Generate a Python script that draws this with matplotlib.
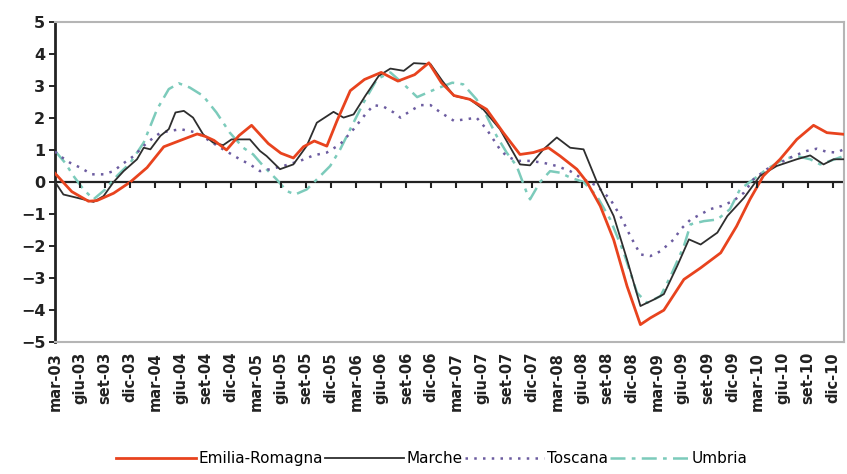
import matplotlib.pyplot as plt
import numpy as np

# month index 0 = mar-03, one step per month
quarter_labels = [f"{m}-{y:02d}" for y in range(3, 11) for m in ("mar", "giu", "set", "dic")]

er_month = [0, 2, 4, 5, 7, 9, 11, 13, 15, 17, 18, 19, 20, 20.5, 22, 23.5, 25.5, 27, 28.5, 29.7,
            31, 32.5, 33.7, 35.3, 37, 39, 41, 43, 44.7, 46.2, 47.7, 49.6, 51.6, 53.6, 55.6, 57.2,
            59, 60.4, 62.4, 63.6, 65.2, 66.8, 68.4, 70, 71.2, 72.8, 75.2, 77.2, 79.6, 81.5, 83.1,
            84.7, 86.7, 88.7, 90.7, 92.3, 94.3]
er_value = [0.27, -0.3, -0.6, -0.58, -0.35, 0.0, 0.45, 1.1, 1.3, 1.5, 1.42, 1.3, 1.1, 1.0, 1.45,
            1.77, 1.2, 0.9, 0.75, 1.1, 1.28, 1.12, 1.9, 2.85, 3.2, 3.42, 3.15, 3.35, 3.72, 3.1, 2.7,
            2.58, 2.27, 1.54, 0.86, 0.92, 1.07, 0.81, 0.4, 0.0, -0.75, -1.8, -3.25, -4.45, -4.24,
            -4.0, -3.04, -2.68, -2.21, -1.38, -0.54, 0.19, 0.71, 1.33, 1.77, 1.54, 1.49]

ma_month = [0, 1, 2.6, 4.6, 5.8, 7, 8.2, 9.8, 10.6, 11.4, 12.6, 13.6, 14.4, 15.4, 16.5, 17.7,
            18.9, 20.1, 21.1, 23.3, 24.5, 25.3, 26.9, 28.5, 30.1, 31.3, 33.3, 34.5, 35.7, 37.1,
            38.7, 40.1, 41.7, 42.9, 44.9, 46.3, 47.7, 49.6, 51.2, 53.2, 55.6, 56.8, 58.4, 60,
            61.6, 63.2, 64.8, 66.8, 68.4, 70, 71.6, 72.8, 74.4, 75.8, 77.2, 79.2, 80.4, 82.4,
            84.3, 86.3, 88.7, 90.3, 91.9, 93.1, 94.3]
ma_value = [0.0, -0.39, -0.49, -0.62, -0.44, 0.0, 0.34, 0.71, 1.07, 1.02, 1.44, 1.65, 2.17, 2.22,
            2.01, 1.49, 1.23, 1.15, 1.33, 1.33, 0.97, 0.81, 0.4, 0.55, 1.13, 1.85, 2.19, 2.01, 2.11,
            2.69, 3.31, 3.54, 3.47, 3.71, 3.68, 3.16, 2.69, 2.58, 2.27, 1.65, 0.55, 0.52, 1.02,
            1.39, 1.07, 1.02, 0.0, -1.06, -2.42, -3.87, -3.67, -3.5, -2.62, -1.79, -1.95, -1.58,
            -1.06, -0.49, 0.19, 0.5, 0.71, 0.83, 0.55, 0.71, 0.71]

to_month = [0, 0.6, 1.8, 3, 4.4, 5.8, 7, 8, 9.4, 11, 12.6, 15, 17, 18.5, 20.1, 22.1, 23.3, 24.5,
            25.7, 27.3, 29.3, 30.9, 32.5, 34.1, 35.7, 37.1, 38.1, 39.3, 40.5, 41.3, 42.5, 43.7,
            44.9, 46.1, 47.7, 49.2, 50.4, 51.6, 53.2, 54, 55.2, 56.8, 58.4, 60, 61.6, 63.2, 64.8,
            66.4, 67.6, 68.8, 70, 71.2, 72.4, 74, 74.8, 76, 77.2, 78.3, 79.7, 81.1, 82.4, 83.5,
            85.1, 86.7, 88.3, 89.9, 91.1, 92.3, 93.5, 94.3]
to_value = [0.95, 0.81, 0.6, 0.45, 0.24, 0.24, 0.34, 0.55, 0.81, 1.23, 1.54, 1.65, 1.54, 1.28,
            1.02, 0.71, 0.55, 0.34, 0.4, 0.5, 0.66, 0.83, 0.92, 1.18, 1.65, 2.11, 2.4, 2.35, 2.17,
            2.01, 2.22, 2.4, 2.4, 2.17, 1.91, 1.96, 2.01, 1.65, 1.02, 0.81, 0.66, 0.66, 0.6, 0.5,
            0.34, 0.08, -0.12, -0.54, -1.06, -1.69, -2.26, -2.31, -2.16, -1.79, -1.48, -1.17,
            -1.01, -0.85, -0.75, -0.59, -0.33, 0.08, 0.4, 0.6, 0.81, 0.97, 1.04, 0.94, 0.92, 1.02]

um_month = [0, 1.2, 2.2, 3.4, 4.6, 6, 7.4, 9, 10.6, 12.2, 13.6, 14.8, 16.1, 17.7, 19.3, 20.9,
            22.5, 23.7, 24.9, 26.5, 27.7, 28.7, 30.1, 31.3, 32.9, 34.1, 35.3, 36.9, 38.5, 40.1,
            41.7, 43.3, 45.5, 47.5, 48.8, 50.4, 51.6, 52.8, 54, 55.2, 56.4, 56.8, 58, 59.2, 60.4,
            61.6, 63.2, 64.8, 66.4, 68, 69.6, 70.8, 72.4, 73.6, 75.2, 76, 77.6, 79.2, 80.7, 81.9,
            83.5, 85.1, 87.1, 88.7, 90.3, 91.5, 92.7, 94.3]
um_value = [0.97, 0.6, 0.19, -0.23, -0.54, -0.23, 0.19, 0.6, 1.23, 2.27, 2.9, 3.08, 2.95, 2.69,
            2.17, 1.54, 1.07, 0.86, 0.5, 0.08, -0.28, -0.39, -0.23, 0.08, 0.5, 1.02, 1.65, 2.48,
            3.21, 3.42, 3.05, 2.65, 2.9, 3.1, 3.05, 2.58, 2.06, 1.44, 0.92, 0.5, -0.33, -0.54, 0.0,
            0.34, 0.29, 0.14, 0.0, -0.44, -1.17, -2.2, -3.46, -3.77, -3.56, -2.94, -2.0, -1.32,
            -1.22, -1.17, -0.85, -0.23, 0.08, 0.4, 0.71, 0.81, 0.71, 0.55, 0.66, 0.81]

plt.rcParams["font.family"] = ["DejaVu Sans"]

fig = plt.figure(figsize=(8.47, 4.74), dpi=100)
ax = fig.add_axes([0.065, 0.278, 0.932, 0.676])

ax.plot(um_month, um_value, color="#7ccbbb", lw=1.8, linestyle=(0, (6, 2.5, 1.5, 2.5)),
        label="Umbria", zorder=2)
ax.plot(to_month, to_value, color="#6c5ca0", lw=1.8, linestyle=(0, (1, 2.5)),
        label="Toscana", zorder=3)
ax.plot(ma_month, ma_value, color="#2e2e2e", lw=1.3, label="Marche", zorder=4)
ax.plot(er_month, er_value, color="#e8431e", lw=2.0, label="Emilia-Romagna", zorder=5)

ax.set_ylim(-5, 5)
ax.set_xlim(0, 94.4)
ax.set_yticks(np.arange(-5, 6, 1))
tick_pos = np.arange(0, 94, 3)
ax.set_xticks(tick_pos)
ax.set_xticklabels(quarter_labels, rotation=90, fontsize=10.5, fontweight="bold",
                   color="#222222")
ax.tick_params(axis="x", length=0, pad=7)
ax.tick_params(axis="y", direction="out", length=4, width=1.2, labelsize=11.5, pad=3,
               labelcolor="#222222")
for lbl in ax.get_yticklabels():
    lbl.set_fontweight("bold")

for side in ("top", "right", "bottom"):
    ax.spines[side].set_color("#b5b5b5")
    ax.spines[side].set_linewidth(1.5)
ax.spines["left"].set_color("#222222")
ax.spines["left"].set_linewidth(2)

# category axis crossing at zero, with small tick marks hanging below it
ax.axhline(0, color="#222222", lw=1.6, zorder=1)
ax.plot(tick_pos[1:], np.zeros(len(tick_pos) - 1), linestyle="none", marker=3,
        markersize=4, markeredgewidth=1.5, color="#222222", zorder=6)

handles, labels = ax.get_legend_handles_labels()
order = [3, 2, 1, 0]
fig.legend([handles[i] for i in order], [labels[i] for i in order], loc="center",
           bbox_to_anchor=(0.51, 0.033), ncol=4, frameon=False, fontsize=11,
           handlelength=5.2, handletextpad=0.15, columnspacing=0.15)

fig.savefig("out.png", dpi=100, facecolor="white")
